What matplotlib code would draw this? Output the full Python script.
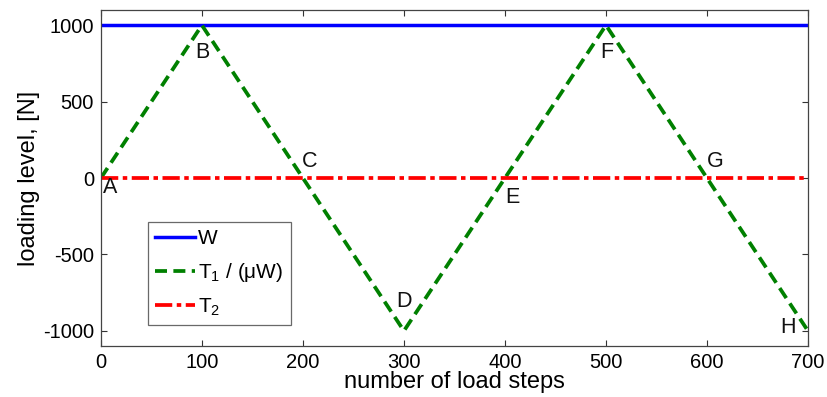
import matplotlib
matplotlib.use("Agg")
import matplotlib.pyplot as plt

plt.rcParams['font.family'] = ['Liberation Sans', 'DejaVu Sans']
plt.rcParams['mathtext.default'] = 'regular'
plt.rcParams['axes.unicode_minus'] = False

# load steps and loading levels
steps = [0, 100, 200, 300, 400, 500, 600, 700]
w_level = [1000, 1000, 1000, 1000, 1000, 1000, 1000, 1000]
t1_level = [0, 1000, 0, -1000, 0, 1000, 0, -1000]
t2_level = [0, 0, 0, 0, 0, 0, 0, 0]

# point labels and their text positions
point_names = ['A', 'B', 'C', 'D', 'E', 'F', 'G', 'H']
label_x = [9, 100, 207, 300, 407, 501, 608, 680]
label_y = [-65, 822, 111, -810, -124, 822, 111, -980]

xticks = [0, 100, 200, 300, 400, 500, 600, 700]
yticks = [-1000, -500, 0, 500, 1000]

fig = plt.figure(figsize=(8.27, 3.97), dpi=100)
ax = fig.add_axes([0.122, 0.128, 0.855, 0.847])

ax.plot(steps, w_level, color=(0, 0, 1), lw=2.5, label='W')
ax.plot(steps, t1_level, color=(0, 0.5, 0), lw=2.7, dashes=(3.2, 1.7),
        label='T$_1$ / (μW)')
ax.plot(steps, t2_level, color=(1, 0, 0), lw=2.7, dashes=(4.6, 1.2, 1.2, 1.2),
        label='T$_2$')

for name, x, y in zip(point_names, label_x, label_y):
    ax.text(x, y, name, fontsize=15.5, ha='center', va='center', color='#111111')

ax.set_xlim(0, 700)
ax.set_ylim(-1100, 1100)
ax.set_xticks(xticks)
ax.set_yticks(yticks)
ax.tick_params(direction='in', length=4, width=0.8, top=True, right=True,
               labelsize=14.5, colors='#333333', labelcolor='black', pad=5)
for sp in ax.spines.values():
    sp.set_color('#444444')
    sp.set_linewidth(0.9)

ax.set_xlabel('number of load steps', fontsize=17, labelpad=-1)
ax.set_ylabel('loading level, [N]', fontsize=17, labelpad=2)

leg = ax.legend(loc='lower left', bbox_to_anchor=(148 / 827, 1 - 325 / 397),
                bbox_transform=fig.transFigure, fontsize=15, frameon=True,
                fancybox=False, handlelength=1.9, handletextpad=0.15,
                borderpad=0.35, labelspacing=0.6, borderaxespad=0)
leg.get_frame().set_edgecolor('#444444')
leg.get_frame().set_linewidth(0.9)

fig.savefig('out.png', dpi=100)
